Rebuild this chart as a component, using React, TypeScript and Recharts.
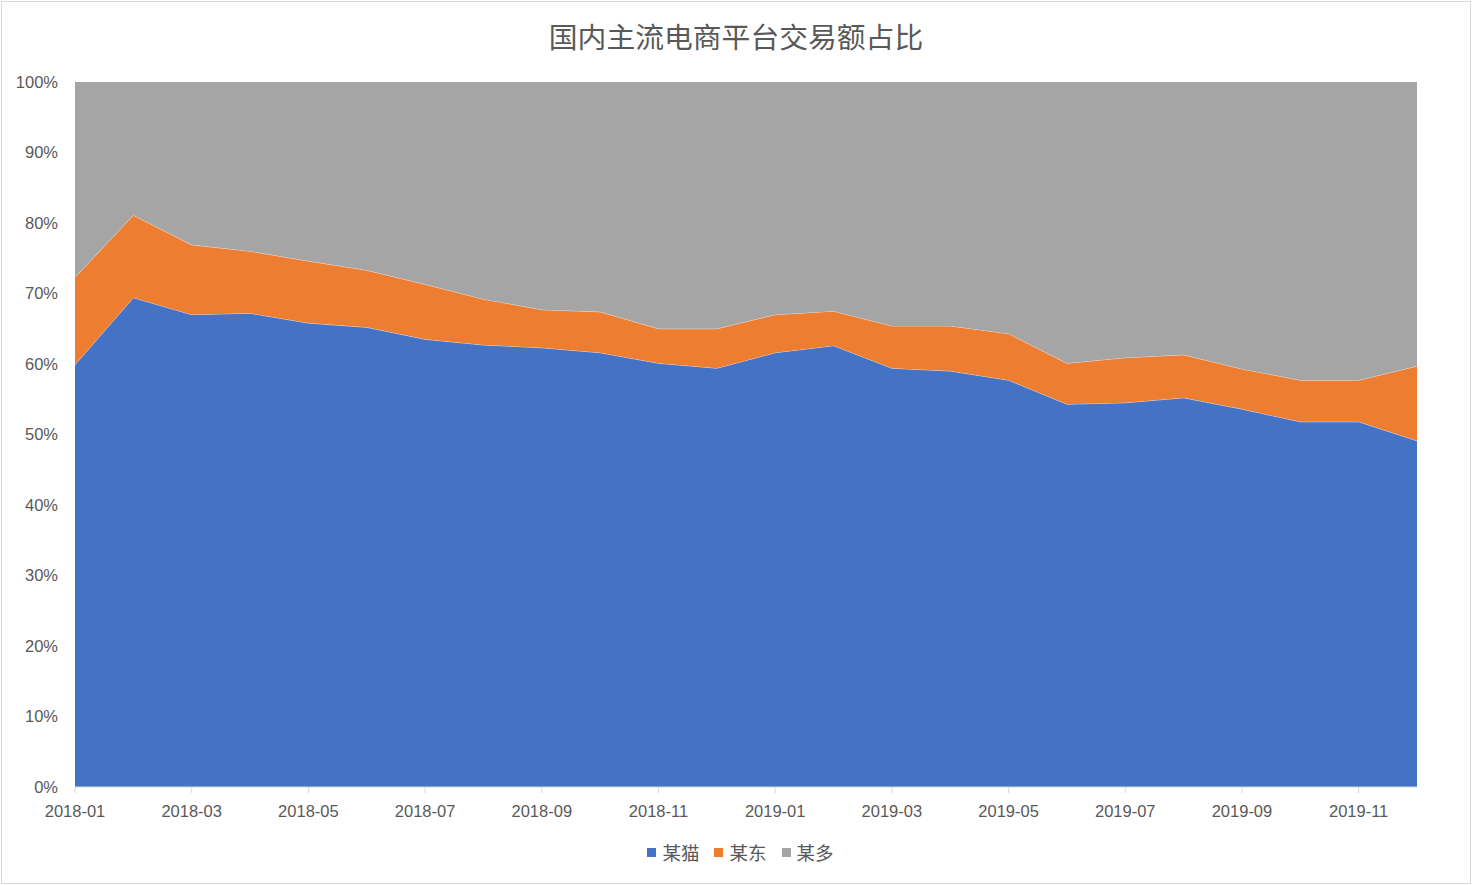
import React from "react";
import { AreaChart, Area, XAxis, YAxis, Legend } from "recharts";

// 2018-01 .. 2019-12, share of GMV (%)
const months = [
  "2018-01", "2018-02", "2018-03", "2018-04", "2018-05", "2018-06",
  "2018-07", "2018-08", "2018-09", "2018-10", "2018-11", "2018-12",
  "2019-01", "2019-02", "2019-03", "2019-04", "2019-05", "2019-06",
  "2019-07", "2019-08", "2019-09", "2019-10", "2019-11", "2019-12",
];
const maoShare = [59.9, 69.4, 67.0, 67.2, 65.8, 65.2, 63.5, 62.7, 62.3, 61.6, 60.1, 59.4, 61.6, 62.6, 59.4, 59.0, 57.7, 54.3, 54.5, 55.2, 53.6, 51.8, 51.8, 49.1];
const dongShare = [12.4, 11.7, 9.9, 8.8, 8.8, 8.1, 7.8, 6.5, 5.4, 5.8, 4.9, 5.6, 5.4, 4.9, 6.0, 6.4, 6.6, 5.8, 6.4, 6.1, 5.7, 5.9, 5.9, 10.6];
const duoShare = [27.7, 18.9, 23.1, 24.0, 25.4, 26.7, 28.7, 30.8, 32.3, 32.6, 35.0, 35.0, 33.0, 32.5, 34.6, 34.6, 35.7, 39.9, 39.1, 38.7, 40.7, 42.3, 42.3, 40.3];
const yTicks = [0, 0.1, 0.2, 0.3, 0.4, 0.5, 0.6, 0.7, 0.8, 0.9, 1];

const seriesNames = ["某猫", "某东", "某多"];
const seriesColors = ["#4472C4", "#ED7D31", "#A5A5A5"];

const data = months.map((m, i) => ({
  month: m,
  某猫: maoShare[i],
  某东: dongShare[i],
  某多: duoShare[i],
}));

const FONT = "Helvetica, Arial, 'Liberation Sans', 'Noto Sans CJK SC', sans-serif";
const CJK = "'Noto Sans CJK SC', sans-serif";
const TEXT = "#595959";

function LegendBox() {
  return (
    <div style={{ height: 53, display: "flex", justifyContent: "center", alignItems: "flex-start", paddingLeft: 64 }}>
      <div style={{ display: "flex", marginTop: 9, lineHeight: "22px" }}>
        {seriesNames.map((name, i) => (
          <div key={name} style={{ display: "flex", alignItems: "center", marginRight: i < 2 ? 15 : 0 }}>
            <span style={{ width: 9, height: 9, background: seriesColors[i], display: "inline-block", marginRight: 6 }} />
            <span style={{ color: TEXT, fontSize: 18.5, fontFamily: CJK }}>{name}</span>
          </div>
        ))}
      </div>
    </div>
  );
}

export default function App() {
  return (
    <div
      style={{
        position: "absolute",
        left: 0,
        top: 0,
        width: 1472,
        height: 885,
        background: "#fff",
        fontFamily: FONT,
      }}
    >
      <div
        style={{
          position: "absolute",
          left: 1,
          top: 1,
          width: 1468,
          height: 881,
          border: "1px solid #d9d9d9",
          pointerEvents: "none",
        }}
      />
      <div
        style={{
          position: "absolute",
          top: 16,
          left: 0,
          width: 1472,
          textAlign: "center",
          fontSize: 28.8,
          color: TEXT,
          fontFamily: CJK,
          lineHeight: "40px",
        }}
      >
        国内主流电商平台交易额占比
      </div>
      <AreaChart
        width={1472}
        height={885}
        data={data}
        stackOffset="expand"
        margin={{ top: 82, right: 55, left: 0, bottom: 0 }}
      >
        <XAxis
          dataKey="month"
          interval={1}
          tickLine={{ stroke: "#d9d9d9" }}
          axisLine={{ stroke: "#d9d9d9" }}
          tick={{ fill: TEXT, fontSize: 16.5, fontFamily: FONT }}
          tickMargin={12}
          height={45}
        />
        <YAxis
          ticks={yTicks}
          domain={[0, 1]}
          tickFormatter={(v: number) => `${Math.round(v * 100)}%`}
          axisLine={false}
          tickLine={false}
          tick={{ fill: TEXT, fontSize: 16.5, fontFamily: FONT }}
          tickMargin={11}
          width={75}
        />
        <Legend verticalAlign="bottom" height={53} content={() => <LegendBox />} />
        <Area type="linear" dataKey="某猫" stackId="a" stroke="#ffffff" strokeWidth={0.6} fill={seriesColors[0]} fillOpacity={1} isAnimationActive={false} />
        <Area type="linear" dataKey="某东" stackId="a" stroke="#ffffff" strokeWidth={0.6} fill={seriesColors[1]} fillOpacity={1} isAnimationActive={false} />
        <Area type="linear" dataKey="某多" stackId="a" stroke="none" fill={seriesColors[2]} fillOpacity={1} isAnimationActive={false} />
      </AreaChart>
    </div>
  );
}
